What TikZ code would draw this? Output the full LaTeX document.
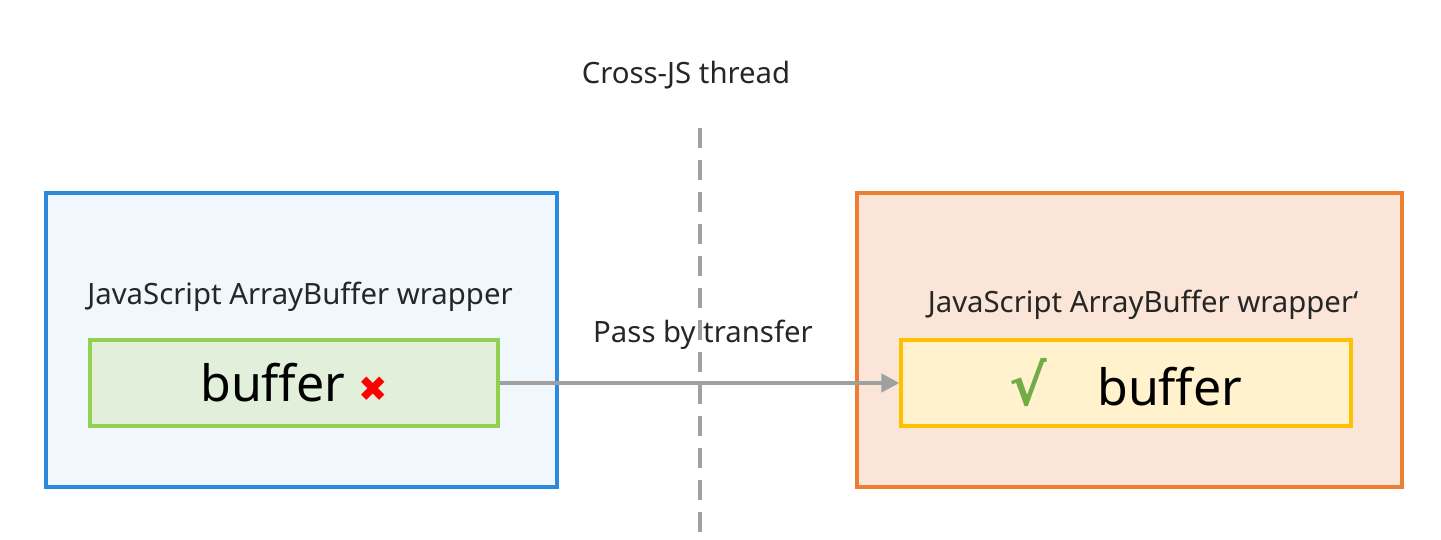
\documentclass[tikz,border=0pt]{standalone}
\usepackage{fontspec}
\setmainfont{Noto Sans}
\newfontfamily\symfont{DejaVu Sans}
\usepackage{tikz}
\usetikzlibrary{arrows.meta}

\definecolor{leftfill}{HTML}{F0F8FE}
\definecolor{leftline}{HTML}{2A8ADB}
\definecolor{rightfill}{HTML}{FAE5D8}
\definecolor{rightline}{HTML}{ED7D31}
\definecolor{greenfill}{HTML}{E2EFDA}
\definecolor{greenline}{HTML}{92D050}
\definecolor{yellowfill}{HTML}{FFF2CC}
\definecolor{yellowline}{HTML}{FFC000}
\definecolor{tickgreen}{HTML}{70AD47}
\definecolor{linegray}{HTML}{A0A0A0}

\begin{document}
\begin{tikzpicture}[x=0.02cm, y=-0.02cm]
				\tikzset{threadbox/.style={draw, rectangle, line width=2.2pt, minimum height=5.88cm},
					bufbox/.style={draw, rectangle, line width=1.9pt, minimum height=1.72cm, font=\fontsize{28.5}{30}\selectfont},
					caption/.style={font=\fontsize{16.7}{20}\selectfont, text=black!85}}
				\useasboundingbox (0,0) rectangle (1441,540);
				\node[threadbox, fill=leftfill, draw=leftline, minimum width=10.22cm] (leftthread) at (301.5,340) {};
				\node[threadbox, fill=rightfill, draw=rightline, minimum width=10.9cm] (rightthread) at (1129.5,340) {};
				\node[bufbox, fill=greenfill, draw=greenline, minimum width=8.16cm] (leftbuf) at (294,383) {buffer {\symfont\color{red}\fontsize{20}{20}\selectfont ✖}};
				\node[bufbox, fill=yellowfill, draw=yellowline, minimum width=9cm] (rightbuf) at (1126,383) {{\symfont\color{tickgreen}\bfseries\fontsize{32}{32}\selectfont √}\quad buffer};
				\node[caption] (leftname) at (300,297) {JavaScript ArrayBuffer wrapper};
				\node[caption] (rightname) at (1143,305) {JavaScript ArrayBuffer wrapper‘};
				\node[caption] (crossjs) at (686,75) {Cross-JS thread};
				\node[caption] (passby) at (703,335) {Pass by transfer};

				\coordinate (sepTop) at (700,128);
				\coordinate (sepBottom) at (700,538);
				\draw[linegray, line width=2.4pt, dash pattern=on 0.4cm off 0.24cm] (sepTop) -- (sepBottom);
				\draw[-{Triangle[length=0.36cm, width=0.36cm]}, linegray, line width=2.4pt] (leftbuf) -- (rightbuf);
			\end{tikzpicture}
\end{document}
